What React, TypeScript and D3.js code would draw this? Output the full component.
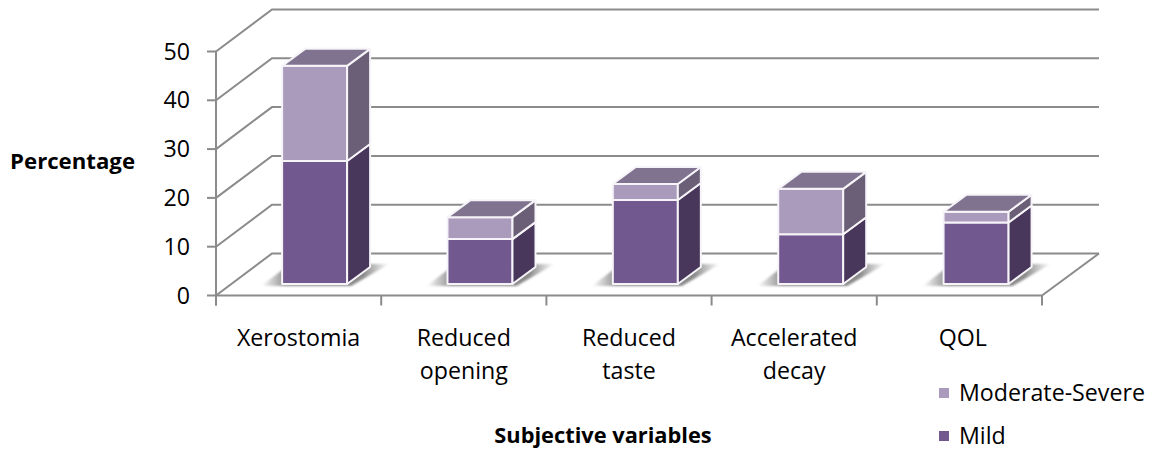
import React from "react";
import * as d3 from "d3";

const categories = [["Xerostomia"], ["Reduced", "opening"], ["Reduced", "taste"], ["Accelerated", "decay"], ["QOL"]];
const mildValues = [25.2, 9.2, 17.2, 10.2, 12.6];
const severeValues = [19.5, 4.5, 3.3, 9.3, 2.2];
const yTicks = [0, 10, 20, 30, 40, 50];
const legendItems = [
  { label: "Moderate-Severe", color: "#aa9bbd", y: 393 },
  { label: "Mild", color: "#71588f", y: 436 },
];

const FONT = "'Open Sans', sans-serif";
const GRID = "#8b8b8b";
const STROKE = "#f6f4f8";
const W = 1157, H = 450;
const x0 = 216, x1 = 1042, yBase = 295.5, yTop = 51.5;
const depthX = 56, depthY = 42;
const barDX = 17, barDY = 11.5, sideX = 23, sideY = 17;

const x = d3.scaleBand<number>().domain(d3.range(categories.length)).range([x0, x1]).paddingInner(0.605).paddingOuter(0.3);
const bandStep = (x1 - x0) / categories.length;
const y = d3.scaleLinear().domain([0, 50]).range([yBase, yTop]);
const pts = (p: number[][]) => p.map((q) => q.join(",")).join(" ");

function Segment({ bx, w, yLow, yHigh, front, side }: any) {
  return (
    <g stroke={STROKE} strokeWidth={2} strokeLinejoin="round">
      <polygon points={pts([[bx, yLow], [bx + w, yLow], [bx + w, yHigh], [bx, yHigh]])} fill={front} />
      <polygon points={pts([[bx + w, yLow], [bx + w + sideX, yLow - sideY], [bx + w + sideX, yHigh - sideY], [bx + w, yHigh]])} fill={side} />
    </g>
  );
}

export default function App() {
  const w = 65;
  return (
    <svg width={W} height={H} viewBox={`0 0 ${W} ${H}`} style={{ position: "absolute", left: 0, top: 0, background: "#fff" }} fontFamily={FONT}>
      <defs>
        <linearGradient id="shadow" x1="0" x2="1" y1="0" y2="0">
          <stop offset="0" stopColor="#777" stopOpacity={0} />
          <stop offset="0.2" stopColor="#777" stopOpacity={0.85} />
          <stop offset="0.8" stopColor="#777" stopOpacity={0.85} />
          <stop offset="1" stopColor="#777" stopOpacity={0} />
        </linearGradient>
        <filter id="blur" x="-10%" y="-20%" width="120%" height="140%">
          <feGaussianBlur stdDeviation="1" />
        </filter>
      </defs>

      <g stroke={GRID} strokeWidth={2} fill="none">
        {yTicks.map((t) => (
          <polyline key={t} points={pts([[x0, y(t)], [x0 + depthX, y(t) - depthY], [x1 + depthX + 1, y(t) - depthY]])} />
        ))}
        <polyline points={pts([[x1, yBase], [x1 + depthX + 1, yBase - depthY]])} />
        <line x1={x0} x2={x1} y1={yBase} y2={yBase} />
        <line x1={x0} x2={x0} y1={yTop} y2={yBase + 10} />
        {yTicks.map((t) => (
          <line key={t} x1={x0 - 9} x2={x0} y1={y(t)} y2={y(t)} />
        ))}
        {d3.range(categories.length + 1).map((i) => (
          <line key={i} x1={x0 + i * bandStep} x2={x0 + i * bandStep} y1={yBase} y2={yBase + 10} />
        ))}
      </g>

      {categories.map((_, i) => {
        const bx = (x(i) as number) + barDX - 0.5;
        const b = y(0) - barDY;
        const dy = (v: number) => y(v) - barDY;
        const m = mildValues[i];
        const t = m + severeValues[i];
        return (
          <g key={i}>
            <polygon
              points={pts([[bx - 21, b + 2], [bx + w + 4, b + 2], [bx + w + 42, b - 20], [bx + 8, b - 20]])}
              fill="url(#shadow)"
              filter="url(#blur)"
            />
            <Segment bx={bx} w={w} yLow={b} yHigh={dy(m)} front="#71588f" side="#49375b" />
            <Segment bx={bx} w={w} yLow={dy(m)} yHigh={dy(t)} front="#aa9bbd" side="#6b5f78" />
            <polygon
              points={pts([[bx, dy(t)], [bx + w, dy(t)], [bx + w + sideX, dy(t) - sideY], [bx + sideX, dy(t) - sideY]])}
              fill="#80738f"
              stroke={STROKE}
              strokeWidth={2}
              strokeLinejoin="round"
            />
          </g>
        );
      })}

      <g fontSize={23.2} fill="#000">
        {yTicks.map((t) => (
          <text key={t} x={190} y={y(t) + 8} textAnchor="end">{t}</text>
        ))}
        {categories.map((lines, i) =>
          lines.map((l, j) => (
            <text key={l} x={x0 + (i + 0.5) * bandStep + (i === 4 ? 3.5 : 0)} y={346 + j * 33} textAnchor="middle">{l}</text>
          ))
        )}
        {legendItems.map((d) => (
          <g key={d.label}>
            <rect x={939} y={d.y - 5} width={10} height={10} fill={d.color} />
            <text x={959} y={d.y + 8}>{d.label}</text>
          </g>
        ))}
      </g>
      <text x={135} y={169} textAnchor="end" fontSize={22.2} fontWeight={700}>Percentage</text>
      <text x={603} y={443} textAnchor="middle" fontSize={21.8} fontWeight={700}>Subjective variables</text>
    </svg>
  );
}
